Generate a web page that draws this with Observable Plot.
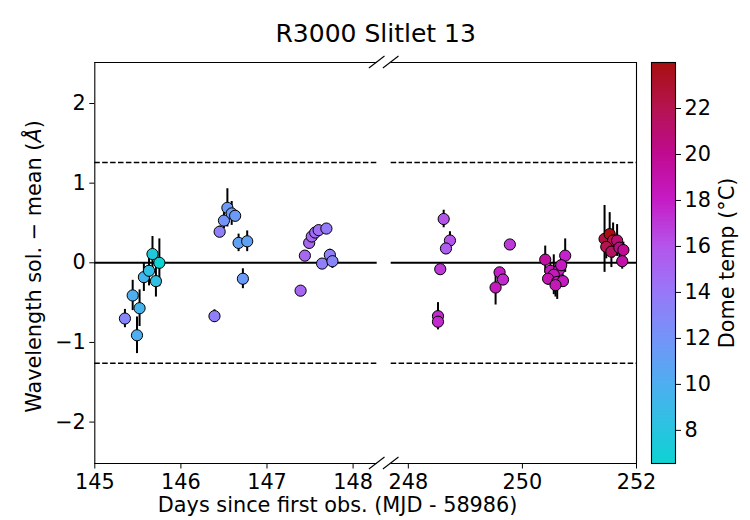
<!DOCTYPE html>
<html><head><meta charset="utf-8">
<script src="https://cdn.jsdelivr.net/npm/d3@7"></script>
<script src="https://cdn.jsdelivr.net/npm/@observablehq/plot@0.6"></script>
<style>
body{margin:0;background:#fff;}
#wrap{position:relative;width:750px;height:520px;font-family:"DejaVu Sans",sans-serif;}
#wrap svg{position:absolute;top:0;}
</style></head><body><div id="wrap"></div>
<script>
// ---- data ----
const days = [145.35,145.44,145.49,145.52,145.57,145.63,145.67,145.71,145.75,
  146.39,146.45,146.50,146.54,146.59,146.63,146.67,146.77,146.72,
  147.39,147.44,147.49,147.52,147.56,147.60,147.69,147.64,147.73,147.76,
  248.62,248.73,248.66,248.56,248.52,248.52,249.78,249.60,249.66,249.53,
  250.40,250.75,250.49,250.64,250.68,250.55,250.45,250.61,250.71,250.58,
  251.44,251.53,251.59,251.66,251.47,251.56,251.70,251.77,251.75];
const offsets = [-0.70,-0.41,-0.91,-0.57,-0.18,-0.10,0.11,-0.23,0.00,
  -0.67,0.39,0.53,0.69,0.62,0.59,0.25,0.27,-0.20,
  -0.35,0.09,0.25,0.33,0.38,0.41,0.43,-0.01,0.10,0.02,
  0.55,0.28,0.18,-0.08,-0.67,-0.74,0.23,-0.12,-0.21,-0.31,
  0.04,0.09,-0.10,-0.09,-0.03,-0.15,-0.20,-0.24,-0.23,-0.28,
  0.30,0.36,0.28,0.28,0.20,0.14,0.19,0.16,0.02];
const errors = [0.115,0.19,0.23,0.23,0.18,0.19,0.22,0.20,0.30,
  0.08,0.07,0.10,0.24,0.15,0.07,0.11,0.13,0.125,
  0.03,0.03,0.03,0.03,0.03,0.03,0.03,0.03,0.07,0.09,
  0.11,0.11,0.05,0.04,0.17,0.10,0.05,0.05,0.05,0.22,
  0.17,0.21,0.10,0.10,0.08,0.25,0.08,0.22,0.08,0.15,
  0.42,0.27,0.22,0.20,0.15,0.20,0.12,0.10,0.10];
const domeTemps = [13.0,10.0,10.0,9.5,9.5,8.5,7.5,8.5,6.6,
  13.5,13.5,12.0,11.5,11.5,11.5,11.0,11.0,11.5,
  15.0,15.0,15.0,15.0,14.5,14.5,13.8,13.5,13.5,13.0,
  16.0,16.0,15.5,17.0,17.5,17.5,17.0,18.0,17.5,18.3,
  19.3,17.8,18.5,18.2,18.2,18.5,18.8,18.5,18.2,18.5,
  22.5,23.9,22.0,21.0,22.0,21.5,20.3,19.8,19.2];
const xTicks = [145,146,147,148,248,250,252];
const yTicks = [-2,-1,0,1,2];
const cbTicks = [8,10,12,14,16,18,20,22];
const panels = [[145,148.28],[247.7,252]];
const yLim = [-2.52,2.515];
const tolerance = 1.26;
const tempRange = [6.56,24.0];
const cmapTemps = [6.56,8,10,12,14,16,18,20,22,24];
const cmapColors = ["#0ed2d2","#28c4e0","#4eaef0","#7494f8","#9878f8","#b455ea","#c61cc6","#c00a90","#b41450","#a80f0f"];

const rows = days.map((d,i)=>({day:d, off:offsets[i], err:errors[i], temp:domeTemps[i]}));
const dashRows = panels.flatMap(p => [tolerance,-tolerance].map(v => ({x1:p[0], x2:p[1], y:v})));
const frameRows = panels.flatMap(p => yLim.map(v => ({x1:p[0], x2:p[1], y:v})));
const colorOpts = {type:"linear", domain:cmapTemps, range:cmapColors};
const font = "DejaVu Sans";
const fs = 20.8;
const minus = d => d < 0 ? "\u2212" + Math.abs(d) : String(d);

function breakMarks(index, scales) {
  const ns = "http://www.w3.org/2000/svg";
  const g = document.createElementNS(ns, "g");
  const edges = [panels[0][1], panels[1][0]];
  for (const xv of edges) for (const yv of yLim) {
    const cx = scales.x(xv), cy = scales.y(yv);
    const l = document.createElementNS(ns, "line");
    l.setAttribute("x1", cx - 7.8); l.setAttribute("y1", cy + 6);
    l.setAttribute("x2", cx + 7.8); l.setAttribute("y2", cy - 6);
    l.setAttribute("stroke", "black"); l.setAttribute("stroke-width", 1.1);
    g.appendChild(l);
  }
  return g;
}

const main = Plot.plot({
  width: 750, height: 520,
  marginTop: 62, marginBottom: 57, marginLeft: 94.3, marginRight: 114,
  style: {fontFamily: font, background: "transparent", overflow: "visible"},
  x: {type:"linear", domain:[panels[0][0], panels[0][1], panels[1][0], panels[1][1]], range:[94.3,376.7,390.7,636]},
  y: {domain: yLim},
  color: colorOpts,
  marks: [
    Plot.ruleY(dashRows, {x1:"x1", x2:"x2", y:"y", stroke:"black", strokeWidth:1.5, strokeDasharray:"5.5,2.4"}),
    Plot.ruleY(panels, {x1:d=>d[0], x2:d=>d[1], y:0, stroke:"black", strokeWidth:2}),
    Plot.ruleY(frameRows, {x1:"x1", x2:"x2", y:"y", stroke:"black", strokeWidth:1.1}),
    Plot.ruleX([panels[0][0], panels[1][1]], {x:d=>d, y1:yLim[0], y2:yLim[1], stroke:"black", strokeWidth:1.1}),
    breakMarks,
    Plot.ruleX(rows, {x:"day", y1:d=>d.off-d.err, y2:d=>d.off+d.err, stroke:"black", strokeWidth:2}),
    Plot.dot(rows, {x:"day", y:"off", r:5.6, fill:"temp", stroke:"black", strokeWidth:1}),
    Plot.axisX({ticks:xTicks, tickSize:5.5, tickPadding:5, fontSize:fs, label:null, tickFormat:d=>String(d), stroke:"black", fill:"black"}),
    Plot.axisY({ticks:yTicks, tickSize:5, tickPadding:4, fontSize:fs, label:null, tickFormat:minus, stroke:"black", fill:"black"}),
    Plot.text(["Days since first obs. (MJD - 58986)"], {frameAnchor:"bottom", lineAnchor:"bottom", dx:-28, dy:48.7, fontSize:fs, fill:"black"}),
    Plot.text(["Wavelength sol. \u2212 mean (\u00c5)"], {frameAnchor:"left", textAnchor:"middle", rotate:-90, dx:-60.3, dy:3.5, fontSize:fs, fill:"black"}),
    Plot.text(["R3000 Slitlet 13"], {frameAnchor:"top", lineAnchor:"bottom", dx:10, dy:-20.3, fontSize:25, fill:"black"})
  ]
});

const cbSteps = 300;
const cbStep = (tempRange[1]-tempRange[0]) / cbSteps;
const cbar = Plot.plot({
  width: 110, height: 520,
  marginTop: 62, marginBottom: 57, marginLeft: 11, marginRight: 75,
  style: {fontFamily: font, background: "transparent", overflow: "visible"},
  x: {domain:[0,1], axis:null},
  y: {domain: tempRange},
  color: colorOpts,
  marks: [
    Plot.rect(d3.range(cbSteps), {x1:0, x2:1, y1:i=>tempRange[0]+i*cbStep, y2:i=>tempRange[0]+(i+1.2)*cbStep, fill:i=>tempRange[0]+(i+0.5)*cbStep, shapeRendering:"crispEdges"}),
    Plot.frame({stroke:"black", strokeWidth:1.1}),
    Plot.axisY({anchor:"right", ticks:cbTicks, tickSize:5, tickPadding:4, fontSize:fs, label:null, stroke:"black", fill:"black"}),
    Plot.text(["Dome temp (\u00b0C)"], {frameAnchor:"right", textAnchor:"middle", rotate:-90, dx:52, fontSize:fs, fill:"black"})
  ]
});
cbar.style.left = "640px";
main.style.left = "0px";

// italic Ångström sign, as in the reference
for (const t of main.querySelectorAll("text")) {
  if (t.textContent === "Wavelength sol. \u2212 mean (\u00c5)") {
    t.textContent = "";
    const ns = "http://www.w3.org/2000/svg";
    const a = document.createElementNS(ns, "tspan"); a.textContent = "Wavelength sol. \u2212 mean (";
    const b = document.createElementNS(ns, "tspan"); b.textContent = "\u00c5"; b.setAttribute("font-style", "italic");
    const c = document.createElementNS(ns, "tspan"); c.textContent = ")";
    t.append(a, b, c);
  }
}
const wrap = document.getElementById("wrap");
wrap.appendChild(cbar);
wrap.appendChild(main);
</script></body></html>
